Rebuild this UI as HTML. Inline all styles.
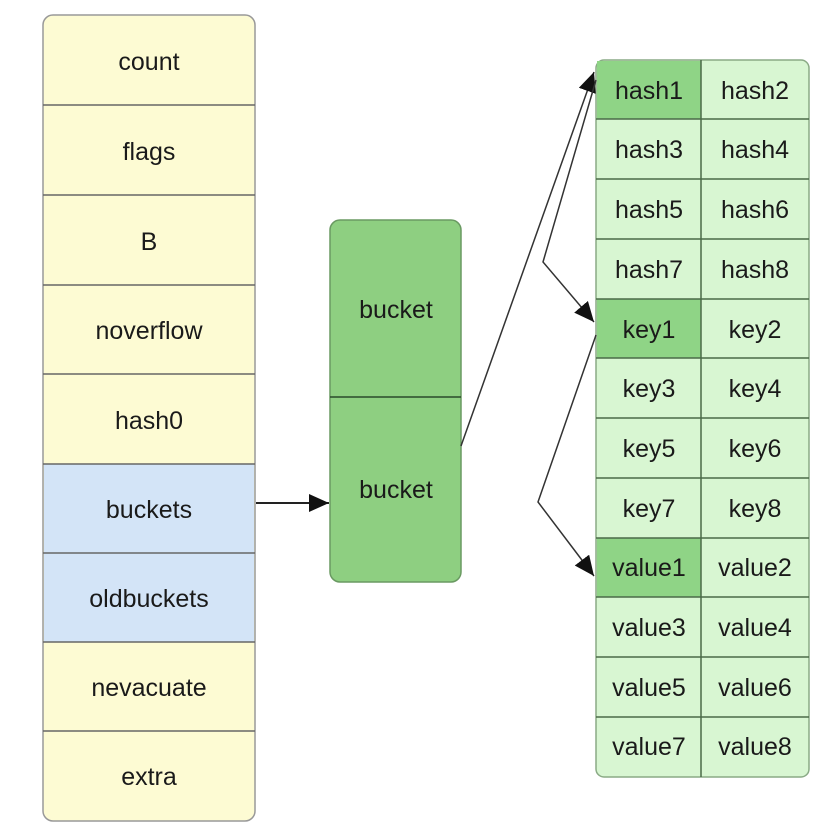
<!DOCTYPE html>
<html><head><meta charset="utf-8"><style>
html,body{margin:0;padding:0;background:#fff;}
svg{display:block;}
text{font-family:"Liberation Sans",sans-serif;font-size:25px;fill:#1a1a1a;text-anchor:middle;dominant-baseline:central;}
</style></head><body>
<svg width="829" height="835" viewBox="0 0 829 835" xmlns="http://www.w3.org/2000/svg">
<defs>
<marker id="ah2" markerWidth="22" markerHeight="22" refX="20" refY="9" orient="auto" markerUnits="userSpaceOnUse">
<path d="M0,0 L20,9 L0,18 Z" fill="#111"/>
</marker>
</defs>
<rect x="43" y="15" width="212" height="806" rx="10" fill="#fdfbd3" stroke="#999" stroke-width="1.5"/>
<rect x="44" y="464" width="210" height="178" fill="#d3e4f7"/>
<g stroke="#666" stroke-width="1.5">
<line x1="43" y1="105" x2="255" y2="105"/>
<line x1="43" y1="195" x2="255" y2="195"/>
<line x1="43" y1="285" x2="255" y2="285"/>
<line x1="43" y1="374" x2="255" y2="374"/>
<line x1="43" y1="464" x2="255" y2="464"/>
<line x1="43" y1="553" x2="255" y2="553"/>
<line x1="43" y1="642" x2="255" y2="642"/>
<line x1="43" y1="731" x2="255" y2="731"/>
</g>
<text x="149" y="62">count</text>
<text x="149" y="152">flags</text>
<text x="149" y="242">B</text>
<text x="149" y="331">noverflow</text>
<text x="149" y="421">hash0</text>
<text x="149" y="510">buckets</text>
<text x="149" y="599">oldbuckets</text>
<text x="149" y="688">nevacuate</text>
<text x="149" y="777">extra</text>

<line x1="256" y1="503" x2="329" y2="503" stroke="#222" stroke-width="2" marker-end="url(#ah2)"/>

<rect x="330" y="220" width="131" height="362" rx="10" fill="#8ecf81" stroke="#6a9a62" stroke-width="1.5"/>
<line x1="330" y1="397" x2="461" y2="397" stroke="#2a4a2a" stroke-width="1.5"/>
<text x="396" y="310">bucket</text>
<text x="396" y="490">bucket</text>

<rect x="596" y="60" width="213" height="717" rx="8" fill="#d8f6d2" stroke="#8aaa85" stroke-width="1.5"/>
<rect x="597" y="61" width="104" height="58" fill="#8fd486"/>
<rect x="597" y="299" width="104" height="59" fill="#8fd486"/>
<rect x="597" y="538" width="104" height="59" fill="#8fd486"/>
<g stroke="#4a6a48" stroke-width="1.5">
<line x1="701" y1="60" x2="701" y2="777"/>
<line x1="596" y1="119" x2="809" y2="119"/>
<line x1="596" y1="179" x2="809" y2="179"/>
<line x1="596" y1="239" x2="809" y2="239"/>
<line x1="596" y1="299" x2="809" y2="299"/>
<line x1="596" y1="358" x2="809" y2="358"/>
<line x1="596" y1="418" x2="809" y2="418"/>
<line x1="596" y1="478" x2="809" y2="478"/>
<line x1="596" y1="538" x2="809" y2="538"/>
<line x1="596" y1="597" x2="809" y2="597"/>
<line x1="596" y1="657" x2="809" y2="657"/>
<line x1="596" y1="717" x2="809" y2="717"/>
</g>
<g>
<text x="649" y="91">hash1</text><text x="755" y="91">hash2</text>
<text x="649" y="150">hash3</text><text x="755" y="150">hash4</text>
<text x="649" y="210">hash5</text><text x="755" y="210">hash6</text>
<text x="649" y="270">hash7</text><text x="755" y="270">hash8</text>
<text x="649" y="330">key1</text><text x="755" y="330">key2</text>
<text x="649" y="389">key3</text><text x="755" y="389">key4</text>
<text x="649" y="449">key5</text><text x="755" y="449">key6</text>
<text x="649" y="509">key7</text><text x="755" y="509">key8</text>
<text x="649" y="568">value1</text><text x="755" y="568">value2</text>
<text x="649" y="628">value3</text><text x="755" y="628">value4</text>
<text x="649" y="688">value5</text><text x="755" y="688">value6</text>
<text x="649" y="747">value7</text><text x="755" y="747">value8</text>
</g>

<polyline points="461,446 594,72" fill="none" stroke="#333" stroke-width="1.5" marker-end="url(#ah2)"/>
<polyline points="596,80 543,262 594,322" fill="none" stroke="#333" stroke-width="1.5" marker-end="url(#ah2)"/>
<polyline points="596,335 538,502 594,576" fill="none" stroke="#333" stroke-width="1.5" marker-end="url(#ah2)"/>
</svg>
</body></html>
